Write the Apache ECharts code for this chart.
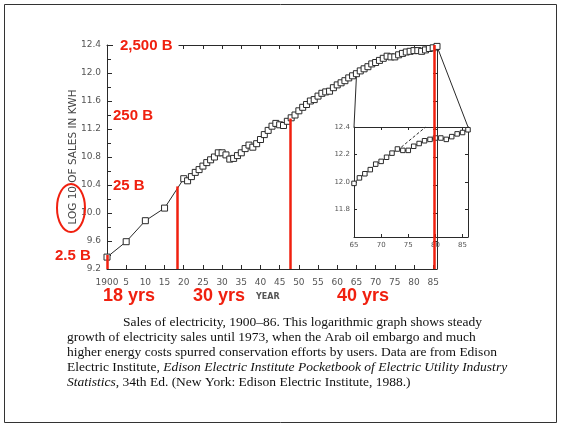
<!DOCTYPE html>
<html>
<head>
<meta charset="utf-8">
<script src="https://cdn.jsdelivr.net/npm/echarts@6/dist/echarts.min.js"></script>
<style>
html,body{margin:0;padding:0;background:#fff;}
#chart{width:563px;height:426px;}
</style>
</head>
<body>
<div id="chart"></div>
<script>
// log10 of electricity sales (kWh), 1900-86
var years = [1900, 1905, 1910, 1915, 1920,
	1921, 1922, 1923, 1924, 1925, 1926, 1927, 1928, 1929, 1930,
	1931, 1932, 1933, 1934, 1935, 1936, 1937, 1938, 1939, 1940,
	1941, 1942, 1943, 1944, 1945, 1946, 1947, 1948, 1949, 1950,
	1951, 1952, 1953, 1954, 1955, 1956, 1957, 1958, 1959, 1960,
	1961, 1962, 1963, 1964, 1965, 1966, 1967, 1968, 1969, 1970,
	1971, 1972, 1973, 1974, 1975, 1976, 1977, 1978, 1979, 1980,
	1981, 1982, 1983, 1984, 1985, 1986];
var logSales = [9.37, 9.59, 9.89, 10.07, 10.49,
	10.46, 10.52, 10.58, 10.62, 10.67, 10.72, 10.76, 10.80, 10.86, 10.86,
	10.83, 10.77, 10.78, 10.82, 10.86, 10.92, 10.97, 10.94, 10.99, 11.05,
	11.12, 11.18, 11.24, 11.28, 11.26, 11.25, 11.31, 11.36, 11.40, 11.46,
	11.51, 11.55, 11.60, 11.62, 11.67, 11.71, 11.73, 11.74, 11.79, 11.83,
	11.86, 11.89, 11.93, 11.96, 11.99, 12.03, 12.06, 12.09, 12.13, 12.15,
	12.18, 12.21, 12.24, 12.23, 12.23, 12.26, 12.28, 12.30, 12.31, 12.32,
	12.32, 12.31, 12.33, 12.35, 12.36, 12.38];

// dashed trend line in the inset
var trendYears = [1973, 1978.2];
var trendValues = [12.23, 12.4];

// red markers: year reached and log value (2.5 B, 25 B, 250 B, 2,500 B)
var redYears = [1900, 1918.4, 1947.7, 1985.2];
var redTops = [9.4, 10.38, 11.35, 12.4];
var redLabels = ['2.5 B', '25 B', '250 B', '2,500 B'];
var redLevels = [9.4, 10.4, 11.4, 12.4];
var spanLabels = ['18 yrs', '30 yrs', '40 yrs'];

var RED = '#f0200f';
var INK = '#2a2a2a';
var LBL = '#555';

var chart = echarts.init(document.getElementById('chart'));

function pairs(xs, ys){
	return xs.map(function(x, i){ return [x, ys[i]]; });
}
var allData = pairs(years, logSales);
var insetData = allData.filter(function(d){ return d[0] >= 1965; });

var axisLine = {show: true, lineStyle: {color: INK, width: 1}};
var tickIn = function(len){ return {show: true, inside: true, length: len, lineStyle: {color: INK}}; };

var option = {
	backgroundColor: '#fff',
	animation: false,
	grid: [
		{left: 107, right: 126, top: 45, bottom: 157},
		{left: 354, right: 95, top: 127, bottom: 189}
	],
	xAxis: [
		{
			type: 'value', gridIndex: 0, min: 1900, max: 1986, interval: 5,
			axisLine: axisLine, axisTick: tickIn(4), splitLine: {show: false},
			axisLabel: {
				color: LBL, fontSize: 9, fontFamily: 'DejaVu Sans', margin: 9,
				formatter: function(v){
					if (v === 1900) return '1900';
					return v % 5 === 0 ? String(v - 1900) : '';
				}
			}
		},
		{
			type: 'value', gridIndex: 0, position: 'top', min: 1900, max: 1986, interval: 5,
			axisLine: axisLine, axisTick: tickIn(4), axisLabel: {show: false}, splitLine: {show: false}
		},
		{
			type: 'value', gridIndex: 1, min: 1965, max: 1986, interval: 5,
			axisLine: axisLine, axisTick: tickIn(3), splitLine: {show: false},
			axisLabel: {
				color: LBL, fontSize: 7, fontFamily: 'DejaVu Sans', margin: 5,
				formatter: function(v){ return v % 5 === 0 ? String(v - 1900) : ''; }
			}
		},
		{
			type: 'value', gridIndex: 1, position: 'top', min: 1965, max: 1986, interval: 5,
			axisLine: axisLine, axisTick: tickIn(3), axisLabel: {show: false}, splitLine: {show: false}
		}
	],
	yAxis: [
		{
			type: 'value', gridIndex: 0, min: 9.2, max: 12.4, interval: 0.4,
			axisLine: axisLine, axisTick: tickIn(5),
			minorTick: {show: true, splitNumber: 2, length: 4, lineStyle: {color: INK}},
			splitLine: {show: false},
			axisLabel: {
				color: LBL, fontSize: 9, fontFamily: 'DejaVu Sans', margin: 6,
				formatter: function(v){ return v.toFixed(1); }
			}
		},
		{
			type: 'value', gridIndex: 0, position: 'right', min: 9.2, max: 12.4, interval: 0.4,
			axisLine: axisLine, axisTick: tickIn(4), axisLabel: {show: false}, splitLine: {show: false}
		},
		{
			type: 'value', gridIndex: 1, min: 11.6, max: 12.4, interval: 0.2,
			axisLine: axisLine, axisTick: tickIn(3), splitLine: {show: false},
			axisLabel: {
				color: LBL, fontSize: 7, fontFamily: 'DejaVu Sans', margin: 4,
				formatter: function(v){ return v < 11.7 ? '' : v.toFixed(1); }
			}
		},
		{
			type: 'value', gridIndex: 1, position: 'right', min: 11.6, max: 12.4, interval: 0.2,
			axisLine: axisLine, axisTick: tickIn(3), axisLabel: {show: false}, splitLine: {show: false}
		}
	],
	series: [
		{
			name: 'sales', type: 'line', xAxisIndex: 0, yAxisIndex: 0,
			data: allData,
			symbol: 'rect', symbolSize: 6, showAllSymbol: true,
			lineStyle: {color: INK, width: 1},
			itemStyle: {color: '#fff', borderColor: INK, borderWidth: 1},
			z: 3
		},
		{
			name: 'red', type: 'line', xAxisIndex: 0, yAxisIndex: 0, data: [],
			z: 6,
			markLine: {
				silent: true, symbol: 'none', label: {show: false},
				lineStyle: {color: RED, width: 2.5, type: 'solid'},
				data: redYears.map(function(y, i){
					return [{coord: [y, 9.2]}, {coord: [y, redTops[i]]}];
				})
			}
		},
		{
			name: 'inset', type: 'line', xAxisIndex: 2, yAxisIndex: 2,
			data: insetData,
			symbol: 'rect', symbolSize: 4.5, showAllSymbol: true,
			lineStyle: {color: INK, width: 1},
			itemStyle: {color: '#fff', borderColor: INK, borderWidth: 1},
			z: 3
		},
		{
			name: 'trend', type: 'line', xAxisIndex: 2, yAxisIndex: 2,
			data: pairs(trendYears, trendValues), symbol: 'none',
			lineStyle: {color: INK, width: 1, type: [3, 2]}
		}
	]
};
chart.setOption(option);

// annotations placed with the axes
var g = [];
var p65 = chart.convertToPixel({gridIndex: 0}, [1965, logSales[years.indexOf(1965)]]);
var i65 = chart.convertToPixel({gridIndex: 1}, [1965, 12.4]);
var p86 = chart.convertToPixel({gridIndex: 0}, [1986, logSales[years.indexOf(1986)]]);
var i86 = chart.convertToPixel({gridIndex: 1}, [1986, 12.4]);
g.push({type: 'line', shape: {x1: p65[0], y1: p65[1] + 3, x2: i65[0], y2: i65[1]}, style: {stroke: INK, lineWidth: 1}, z: 2});
g.push({type: 'line', shape: {x1: p86[0], y1: p86[1], x2: i86[0], y2: i86[1]}, style: {stroke: INK, lineWidth: 1}, z: 2});

redLabels.forEach(function(t, i){
	var y = chart.convertToPixel({yAxisIndex: 0}, redLevels[i]);
	g.push({
		type: 'text', z: 20,
		x: i === 0 ? 55 : 113, y: y + 1,
		style: {
			text: t, fill: RED, font: 'bold 15px "Liberation Sans", Arial, sans-serif',
			verticalAlign: 'middle',
			backgroundColor: i === 3 ? '#fff' : null,
			padding: i === 3 ? [4, 6, 6, 7] : 0
		}
	});
});

var spanX = [103, 193, 337];
spanLabels.forEach(function(t, i){
	g.push({type: 'text', x: spanX[i], y: 296, z: 20,
		style: {text: t, fill: RED, font: 'bold 18px "Liberation Sans", Arial, sans-serif', verticalAlign: 'middle'}});
});
g.push({type: 'text', x: 256, y: 297, style: {text: 'YEAR', fill: LBL, font: 'bold 8px "DejaVu Sans"', verticalAlign: 'middle'}});

g.push({type: 'text', x: 73, y: 157, rotation: Math.PI / 2,
	style: {text: 'LOG 10 OF SALES IN KWH', fill: '#444', font: '10.5px "DejaVu Sans"', align: 'center', verticalAlign: 'middle'}});
g.push({type: 'ellipse', shape: {cx: 71, cy: 208, rx: 14, ry: 24}, style: {fill: null, stroke: RED, lineWidth: 2}, z: 20});

var cap = '13.5px "Liberation Serif", "Times New Roman", serif';
var capLines = [
	[123, 322, '{n|Sales of electricity, 1900\u201386. This logarithmic graph shows steady}'],
	[67, 337, '{n|growth of electricity sales until 1973, when the Arab oil embargo and much}'],
	[67, 352, '{n|higher energy costs spurred conservation efforts by users. Data are from Edison}'],
	[67, 367, '{n|Electric Institute, }{i|Edison Electric Institute Pocketbook of Electric Utility Industry}'],
	[67, 382, '{i|Statistics}{n|, 34th Ed. (New York: Edison Electric Institute, 1988.)}']
];
capLines.forEach(function(l){
	g.push({type: 'text', x: l[0], y: l[1],
		style: {text: l[2], verticalAlign: 'middle',
			rich: {
				n: {font: cap, fill: '#111'},
				i: {font: 'italic ' + cap, fill: '#111'}
			}}});
});

g.push({type: 'rect', shape: {x: 4.5, y: 4.5, width: 552, height: 418}, style: {fill: null, stroke: '#333', lineWidth: 1}});

chart.setOption({graphic: g});
</script>
</body>
</html>
